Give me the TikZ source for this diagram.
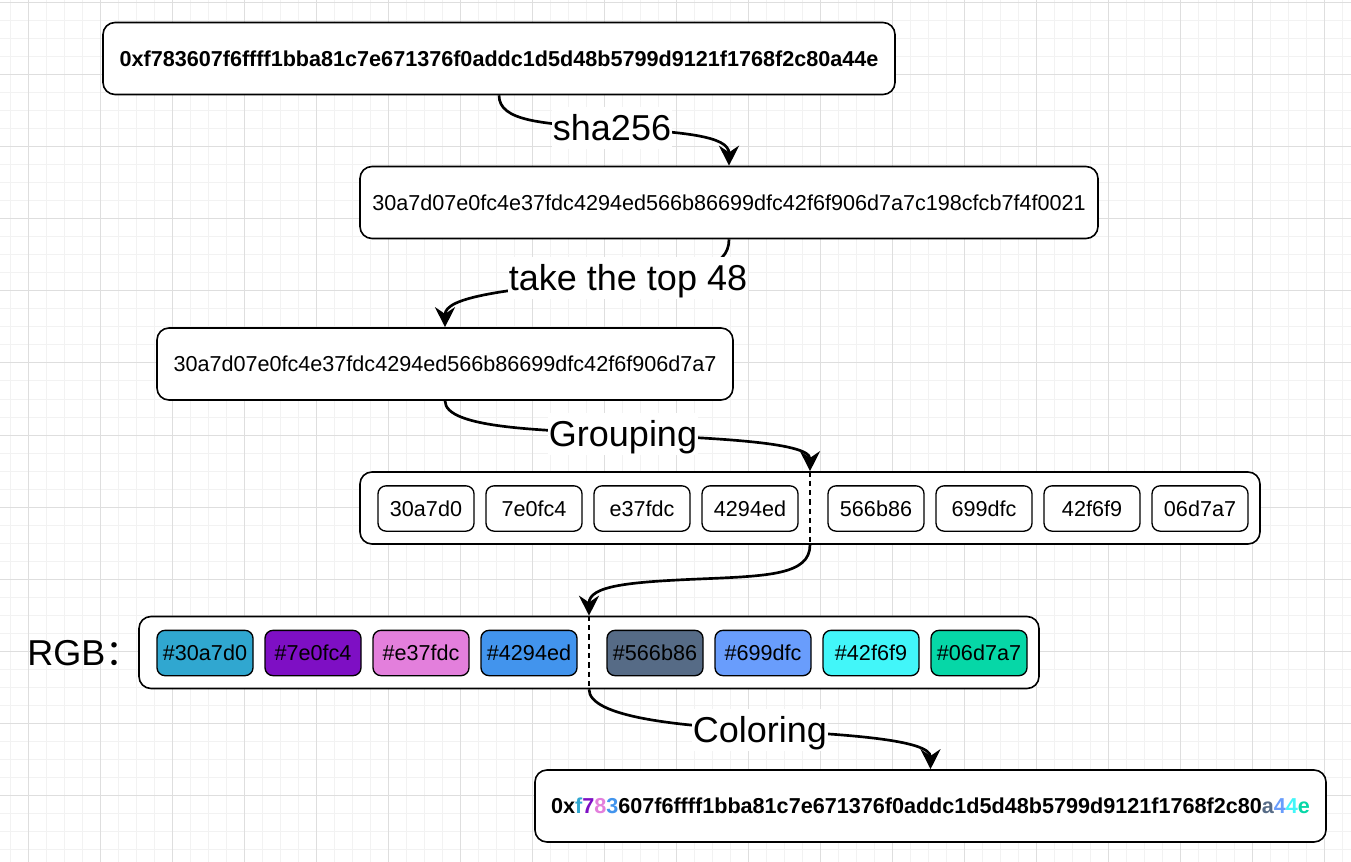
\documentclass[tikz,border=0pt]{standalone}
\usepackage{fontspec}
\setmainfont{Liberation Sans}
\newfontfamily\cjk{Noto Sans CJK SC}
\usepackage{tikz}
\usetikzlibrary{arrows.meta, positioning}
\definecolor{GridMinor}{RGB}{242, 242, 242}
\definecolor{GridMajor}{RGB}{222, 222, 222}
\definecolor{SegOne}  {HTML}{30A7D0}
\definecolor{SegTwo}  {HTML}{7E0FC4}
\definecolor{SegThree}{HTML}{E37FDC}
\definecolor{SegFour} {HTML}{4294ED}
\definecolor{SegFive} {HTML}{566B86}
\definecolor{SegSix}  {HTML}{699DFC}
\definecolor{SegSeven}{HTML}{42F6F9}
\definecolor{SegEight}{HTML}{06D7A7}

\begin{document}
\begin{tikzpicture}[
  x=0.75pt, y=-0.75pt,
  hashbox/.style = {
    rectangle, rounded corners=9pt,
    minimum height=54pt, inner sep=0pt,
    fill=white, draw=black, line width=1.2pt,
    font=\fontsize{16.2}{19.4}\selectfont
  },
  segbox/.style = {
    rectangle, rounded corners=6pt,
    minimum width=72pt, minimum height=34pt, inner sep=0pt,
    fill=white, draw=black, line width=1pt,
    font=\fontsize{16.2}{19.4}\selectfont
  },
  steplabel/.style = {
    fill=white, inner sep=1pt,
    text height=24pt, text depth=5pt,
    font=\fontsize{27}{32}\selectfont
  },
  flow/.style = {-{Stealth[length=15pt, width=15pt, inset=5pt]}, line width=2pt},
  divider/.style = {dashed, dash pattern=on 4pt off 3pt, line width=1pt}
]
\useasboundingbox (0,0) rectangle (1351,862);

% Raster im Hintergrund
\begin{scope}
  \clip (0,0) rectangle (1351,862);
  \foreach \x in {10,28,...,1351} \draw[GridMinor, line width=0.75pt] (\x,0) -- (\x,862);
  \foreach \y in {3,21,...,862} \draw[GridMinor, line width=0.75pt] (0,\y) -- (1351,\y);
  \foreach \x in {28,100,...,1351} \draw[GridMajor, line width=0.75pt] (\x,0) -- (\x,862);
  \foreach \y in {3,75,...,862} \draw[GridMajor, line width=0.75pt] (0,\y) -- (1351,\y);
\end{scope}

% Adresse
\node[hashbox, minimum width=594pt, font=\fontsize{16.2}{19.4}\selectfont\bfseries] (addr) at (499,58.5)
  {0xf783607f6ffff1bba81c7e671376f0addc1d5d48b5799d9121f1768f2c80a44e};

% Hash
\node[hashbox, minimum width=553.5pt] (digest) at (729,202.5)
  {30a7d07e0fc4e37fdc4294ed566b86699dfc42f6f906d7a7c198cfcb7f4f0021};

% Top 48
\node[hashbox, minimum width=432pt] (top48) at (445,364)
  {30a7d07e0fc4e37fdc4294ed566b86699dfc42f6f906d7a7};

% Gruppen
\node[hashbox, minimum width=675pt] (groups) at (810,508) {};
\node[segbox] (grpA) at (426,508.5) {30a7d0};
\node[segbox] (grpB) at (534,508.5) {7e0fc4};
\node[segbox] (grpC) at (642,508.5) {e37fdc};
\node[segbox] (grpD) at (750,508.5) {4294ed};
\node[segbox] (grpE) at (876,508.5) {566b86};
\node[segbox] (grpF) at (984,508.5) {699dfc};
\node[segbox] (grpG) at (1092,508.5) {42f6f9};
\node[segbox] (grpH) at (1200,508.5) {06d7a7};
\draw[divider] (groups.north) -- (groups.south);

% Farben
\node[anchor=west, inner sep=0pt, font=\fontsize{27}{32}\selectfont] (rgbLbl) at (27,653) {RGB{\cjk ：}};
\node[hashbox, minimum width=675pt] (rgb) at (589,652.5) {};
\node[segbox, fill=SegOne] (rgbA) at (205,653) {\#30a7d0};
\node[segbox, fill=SegTwo] (rgbB) at (313,653) {\#7e0fc4};
\node[segbox, fill=SegThree] (rgbC) at (421,653) {\#e37fdc};
\node[segbox, fill=SegFour] (rgbD) at (529,653) {\#4294ed};
\node[segbox, fill=SegFive] (rgbE) at (655,653) {\#566b86};
\node[segbox, fill=SegSix] (rgbF) at (763,653) {\#699dfc};
\node[segbox, fill=SegSeven] (rgbG) at (871,653) {\#42f6f9};
\node[segbox, fill=SegEight] (rgbH) at (979,653) {\#06d7a7};
\draw[divider] (rgb.north) -- (rgb.south);

% Eingefaerbte Adresse
\node[hashbox, minimum width=593.25pt, font=\fontsize{16.2}{19.4}\selectfont\bfseries] (colored) at (930.5,806)
  {0x\textcolor{SegOne}{f}\textcolor{SegTwo}{7}\textcolor{SegThree}{8}\textcolor{SegFour}{3}607f6ffff1bba81c7e671376f0addc1d5d48b5799d9121f1768f2c80\textcolor{SegFive}{a}\textcolor{SegSix}{4}\textcolor{SegSeven}{4}\textcolor{SegEight}{e}};

% Verbindungen
\coordinate (shaPt) at (612,128);
\coordinate (takePt) at (622,279);
\coordinate (groupPt) at (623,434);
\coordinate (splitPt) at (699,579);
\coordinate (colorPt) at (760,730);

\draw[flow] (addr.south) .. controls +(0,26) and +(-70,-4) .. (shaPt)
  .. controls +(70,4) and +(0,-30) .. (digest.north);
\draw[flow] (digest.south) .. controls +(0,30) and +(70,-6) .. (takePt)
  .. controls +(-120,10) and +(0,-30) .. (top48.north);
\draw[flow] (top48.south) .. controls +(0,28) and +(-80,-4) .. (groupPt)
  .. controls +(80,4) and +(0,-30) .. (groups.north);
\draw[flow] (groups.south) .. controls +(0,30) and +(70,-3) .. (splitPt)
  .. controls +(-70,3) and +(0,-30) .. (rgb.north);
\draw[flow] (rgb.south) .. controls +(0,28) and +(-80,-4) .. (colorPt)
  .. controls +(80,4) and +(0,-30) .. (colored.north);

% Beschriftungen
\node[steplabel] (shaLbl) at (shaPt) {sha256};
\node[steplabel] (takeLbl) at (628,278) {take the top 48};
\node[steplabel] (groupLbl) at (groupPt) {Grouping};
\node[steplabel] (colorLbl) at (colorPt) {Coloring};

\end{tikzpicture}
\end{document}
